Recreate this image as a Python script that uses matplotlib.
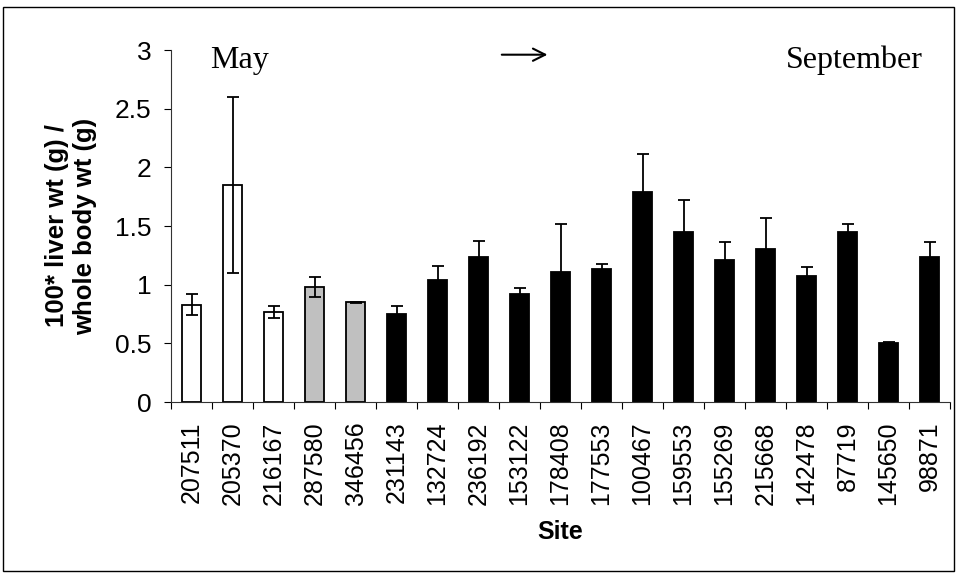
import matplotlib.pyplot as plt
from matplotlib.patches import Rectangle

sites = ["207511", "205370", "216167", "287580", "346456", "231143", "132724",
         "236192", "153122", "178408", "177553", "100467", "159553", "155269",
         "215668", "142478", "87719", "145650", "98871"]
ratio = [0.83, 1.85, 0.77, 0.98, 0.85, 0.75, 1.04, 1.24, 0.92, 1.11,
         1.13, 1.79, 1.45, 1.21, 1.30, 1.07, 1.45, 0.50, 1.24]
err = [0.09, 0.75, 0.05, 0.085, 0.005, 0.07, 0.12, 0.13, 0.05, 0.41,
       0.045, 0.32, 0.27, 0.15, 0.27, 0.08, 0.07, 0.01, 0.12]
groups = ["white"] * 3 + ["grey"] * 2 + ["black"] * 14

fill = {"white": "white", "grey": "#c0c0c0", "black": "black"}
colors = [fill[g] for g in groups]

fig = plt.figure(figsize=(9.57, 5.75), dpi=100)
ax = fig.add_axes([171 / 957, 1 - 402 / 575, 779 / 957, 352 / 575])

x = list(range(len(sites)))
ax.bar(x, ratio, width=0.45, color=colors, edgecolor="black", linewidth=1.3, zorder=2)
ax.errorbar(x, ratio, yerr=err, fmt="none", ecolor="black", elinewidth=1.3,
            capsize=4, capthick=1.3, zorder=3)

ax.set_xlim(-0.5, len(sites) - 0.5)
ax.set_ylim(0, 3)
ax.set_yticks([0, 0.5, 1, 1.5, 2, 2.5, 3])
ax.set_yticklabels(["0", "0.5", "1", "1.5", "2", "2.5", "3"])
ax.set_xticks(x)
ax.set_xticklabels(sites, rotation=90)
ax.set_xticks([i - 0.5 for i in range(len(sites) + 1)], minor=True)
ax.tick_params(axis="x", which="major", length=0, pad=14)
ax.tick_params(axis="x", which="minor", length=5, width=0.8, direction="out")
ax.tick_params(axis="y", length=5, width=0.8, pad=9)
for lab in ax.get_xticklabels():
    lab.set_family("Liberation Sans")
    lab.set_fontsize(18)
for lab in ax.get_yticklabels():
    lab.set_family("Liberation Sans")
    lab.set_fontsize(19)

for s in ["top", "right"]:
    ax.spines[s].set_visible(False)
for s in ["left", "bottom"]:
    ax.spines[s].set_linewidth(0.8)
    ax.spines[s].set_color("#333333")

ax.set_ylabel("100* liver wt (g) /\nwhole body wt (g)", fontsize=18.5,
              fontweight="bold", family="Liberation Sans", linespacing=1.2)
ax.yaxis.set_label_coords(-0.095, 0.5)
ax.set_xlabel("Site", fontsize=18, fontweight="bold", family="Liberation Sans")
ax.xaxis.set_label_coords(0.5, -0.336)

serif = ["Liberation Serif", "DejaVu Serif"]
ax.text(0.45, 2.85, "May", fontsize=23, family=serif, ha="left", va="baseline")
ax.text(17.83, 2.85, "September", fontsize=23, family=serif, ha="right", va="baseline")
ax.annotate("", xy=(8.75, 2.96), xytext=(7.5, 2.96),
            arrowprops=dict(arrowstyle="->", color="black", lw=1.5,
                            mutation_scale=22))

fig.patches.append(Rectangle((3 / 957, 4 / 575), 951 / 957, 564 / 575,
                             transform=fig.transFigure, fill=False,
                             edgecolor="black", linewidth=1))

fig.savefig("out.png", dpi=100)
